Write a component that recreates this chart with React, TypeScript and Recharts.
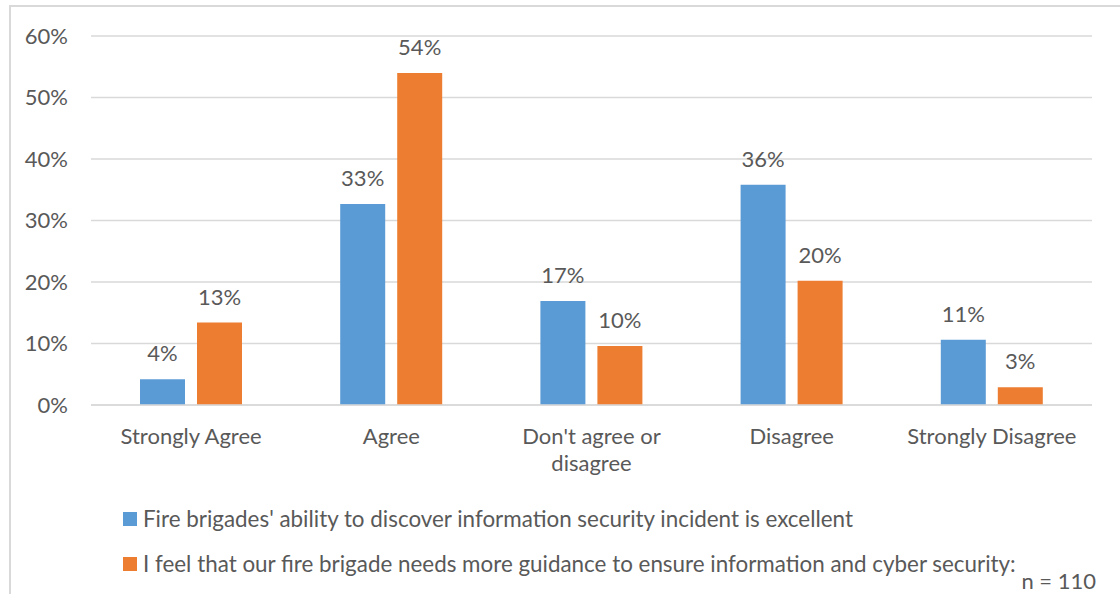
import React from "react";
import { BarChart, Bar, XAxis, YAxis, CartesianGrid, LabelList } from "recharts";

const categories = ["Strongly Agree", "Agree", "Don't agree or disagree", "Disagree", "Strongly Disagree"];
const abilityValues = [0.042, 0.327, 0.169, 0.358, 0.106];
const guidanceValues = [0.134, 0.54, 0.096, 0.202, 0.029];
const yTicks = [0, 0.1, 0.2, 0.3, 0.4, 0.5, 0.6];
const seriesNames = [
  "Fire brigades' ability to discover information security incident is excellent",
  "I feel that our fire brigade needs more guidance to ensure information and cyber security:",
];
const colors = ["#5B9BD5", "#ED7D31"];
const sampleNote = "n = 110";

const data = categories.map((name, i) => ({
  name,
  ability: abilityValues[i],
  guidance: guidanceValues[i],
}));

const font = "Lato, 'Open Sans', sans-serif";
const textColor = "#595959";
const fs = 22;
const pct = (v: any) => `${Math.round(Number(v) * 100)}%`;

// greedy word wrap, like Excel does when a category label is wider than its band
const wrapLabel = (s: string, maxChars = 17) => {
  const lines: string[] = [];
  let cur = "";
  s.split(" ").forEach((w) => {
    const next = cur ? cur + " " + w : w;
    if (next.length > maxChars && cur) {
      lines.push(cur);
      cur = w;
    } else {
      cur = next;
    }
  });
  if (cur) lines.push(cur);
  return lines;
};

const CategoryTick = (props: any) => {
  const { x, y, payload } = props;
  const lines = wrapLabel(String(payload.value));
  return (
    <text x={x} y={y + 39} textAnchor="middle" fill={textColor} fontSize={fs} fontFamily={font}>
      {lines.map((l, i) => (
        <tspan key={i} x={x} dy={i === 0 ? 0 : 27}>
          {l}
        </tspan>
      ))}
    </text>
  );
};

export default function App() {
  return (
    <div style={{ position: "fixed", left: 0, top: 0, width: 1120, height: 594, overflow: "hidden", background: "#fff" }}>
      <div
        style={{
          position: "absolute",
          left: 9,
          top: 5,
          width: 1300,
          height: 800,
          border: "2px solid #d9d9d9",
        }}
      />
      <BarChart
        width={1120}
        height={594}
        data={data}
        margin={{ top: 36, right: 28, bottom: 129, left: 0 }}
        barGap={12}
        barCategoryGap={49}
      >
        <CartesianGrid vertical={false} stroke="#d9d9d9" strokeWidth={1.5} />
        <XAxis
          dataKey="name"
          axisLine={{ stroke: "#d9d9d9", strokeWidth: 1.5 }}
          tickLine={false}
          tickSize={0}
          tickMargin={0}
          interval={0}
          tick={<CategoryTick />}
          height={60}
        />
        <YAxis
          domain={[0, 0.6]}
          ticks={yTicks}
          tickFormatter={pct}
          axisLine={false}
          tickLine={false}
          tickSize={0}
          tickMargin={23}
          width={91}
          tick={{ fill: textColor, fontSize: fs, fontFamily: font }}
        />
        <Bar dataKey="ability" name={seriesNames[0]} fill={colors[0]} isAnimationActive={false}>
          <LabelList dataKey="ability" position="top" offset={18} formatter={pct} fill={textColor} fontSize={fs} fontFamily={font} />
        </Bar>
        <Bar dataKey="guidance" name={seriesNames[1]} fill={colors[1]} isAnimationActive={false}>
          <LabelList dataKey="guidance" position="top" offset={18} formatter={pct} fill={textColor} fontSize={fs} fontFamily={font} />
        </Bar>
      </BarChart>
      <div style={{ position: "absolute", left: 123, top: 496, fontFamily: font, fontSize: 22.4, color: textColor }}>
        {seriesNames.map((n, i) => (
          <div key={n} style={{ display: "flex", alignItems: "center", height: 45 }}>
            <span style={{ width: 14, height: 14, background: colors[i], marginRight: 6, display: "inline-block" }} />
            <span>{n}</span>
          </div>
        ))}
      </div>
      <div
        style={{
          position: "absolute",
          right: 24,
          top: 570,
          lineHeight: "21px",
          fontFamily: font,
          fontSize: fs,
          color: textColor,
        }}
      >
        {sampleNote}
      </div>
    </div>
  );
}
